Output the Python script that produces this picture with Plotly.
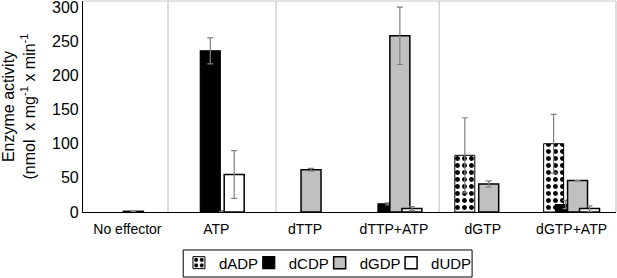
import plotly.graph_objects as go

categories = ["No effector", "ATP", "dTTP", "dTTP+ATP", "dGTP", "dGTP+ATP"]
series_names = ["dADP", "dCDP", "dGDP", "dUDP"]
dADP = [None, None, None, None, 83, 100]
dADP_err = [0, 0, 0, 0, 55, 43]
dCDP = [None, 236, None, 12, None, 11]
dCDP_err = [0, 19, 0, 1.5, 0, 6]
dGDP = [1, 1, 62, 258, 41, 46]
dGDP_err = [0, 0, 2, 42, 4.5, 0]
dUDP = [None, 55, None, 5, None, 5]
dUDP_err = [0, 35, 0, 3, 0, 4]
y_ticks = [0, 50, 100, 150, 200, 250, 300]
separators = [0.457, 1.674, 3.51]

FONT = "Arial, Liberation Sans, sans-serif"
W = 0.225
centers = [-0.202, -0.067, 0.067, 0.202]
legend_x = [0.180, 0.311, 0.444, 0.578]
legend_ids = ["legend", "legend2", "legend3", "legend4"]

styles = [
    dict(color="white", line=dict(color="black", width=1),
         pattern=dict(shape=".", fgcolor="black", bgcolor="white", size=7, solidity=0.4, fillmode="replace")),
    dict(color="black", line=dict(color="black", width=1.2)),
    dict(color="#c0c0c0", line=dict(color="black", width=1.5)),
    dict(color="white", line=dict(color="black", width=1.5)),
]
vals = [dADP, dCDP, dGDP, dUDP]
errs = [dADP_err, dCDP_err, dGDP_err, dUDP_err]

fig = go.Figure()
for name, v, e, st, c, lg in zip(series_names, vals, errs, styles, centers, legend_ids):
    fig.add_trace(go.Bar(
        x=categories, y=v, name=name, width=W, offset=c - W / 2,
        marker=st, legend=lg, showlegend=True,
        error_y=dict(type="data", array=e, visible=True, color="#808080", thickness=1.2, width=3),
    ))

shapes = []
for s in separators:
    shapes.append(dict(type="line", xref="x", yref="paper", x0=s, x1=s, y0=0, y1=1,
                       line=dict(color="#c8c8c8", width=1.2), layer="below"))
shapes.append(dict(type="line", xref="paper", yref="paper", x0=0, x1=1, y0=1, y1=1,
                   line=dict(color="#c8c8c8", width=1.2), layer="below"))
shapes.append(dict(type="line", xref="paper", yref="paper", x0=1, x1=1, y0=0, y1=1,
                   line=dict(color="#c8c8c8", width=1.2), layer="below"))
# legend frame
shapes.append(dict(type="rect", xref="paper", yref="paper", x0=0.188, x1=0.730, y0=-0.180, y1=-0.308,
                   line=dict(color="black", width=1), fillcolor="rgba(0,0,0,0)"))

legend_common = dict(orientation="h", xanchor="left", y=-0.163, yanchor="top",
                     bgcolor="rgba(0,0,0,0)", borderwidth=0,
                     font=dict(size=15, family=FONT), itemwidth=30)
layout_legends = {lg: dict(x=lx, **legend_common) for lg, lx in zip(legend_ids, legend_x)}

fig.update_layout(
    width=617, height=278,
    margin=dict(l=83, r=1, t=1, b=66, autoexpand=False),
    barmode="overlay",
    plot_bgcolor="white", paper_bgcolor="white",
    font=dict(family=FONT, color="black"),
    shapes=shapes,
    showlegend=True,
    xaxis=dict(type="category", showline=True, linecolor="black", linewidth=1.2,
               ticks="", tickfont=dict(size=14), showgrid=False, range=[-0.5, 5.5],
               ticklabelstandoff=4, automargin=False),
    yaxis=dict(range=[0, 309], tickvals=y_ticks, showline=True, linecolor="black", linewidth=1.2,
               ticks="", tickfont=dict(size=16), showgrid=False, zeroline=False,
               ticklabeloverflow="allow", automargin=False,
               title=dict(text="Enzyme activity<br>(nmol  x mg<sup>-1</sup> x min<sup>-1</sup>",
                          font=dict(size=16), standoff=12)),
    **layout_legends,
)
fig.write_html("out.html", config={"displayModeBar": False},
               post_script="document.body.style.margin='0';")
